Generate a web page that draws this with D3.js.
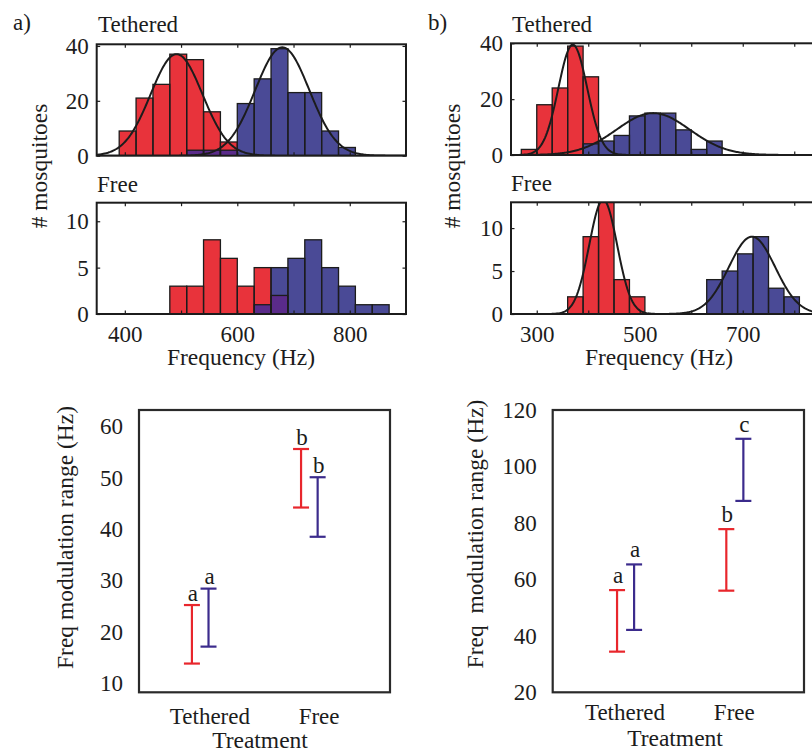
<!DOCTYPE html>
<html>
<head>
<meta charset="utf-8">
<script src="https://cdn.jsdelivr.net/npm/d3@7"></script>
<style>
  html, body { margin: 0; padding: 0; background: #fff; }
  svg { display: block; font-family: "Liberation Serif", "Times New Roman", serif; }
</style>
</head>
<body>
<svg id="chart" width="812" height="753"></svg>
<script>
// ---------------- Histogram counts (30 Hz bins: first bin start, counts) ----------------
const binWidth = 30;

const aTetheredRedStart = 390;
const aTetheredRedCounts = [9, 21, 26, 37, 35, 16, 5];
const aTetheredBlueStart = 510;
const aTetheredBlueCounts = [2, 2, 2, 19, 28, 39, 23, 23, 9, 3];

const aFreeRedStart = 480;
const aFreeRedCounts = [3, 3, 8, 6, 3, 5, 2];
const aFreeBlueStart = 630;
const aFreeBlueCounts = [1, 5, 6, 8, 5, 3, 1, 1];

const bTetheredRedStart = 270;
const bTetheredRedCounts = [2, 18, 24, 39, 28];
const bTetheredBlueStart = 390;
const bTetheredBlueCounts = [4, 5, 7, 14, 15, 15, 9, 2, 5];

const bFreeRedStart = 360;
const bFreeRedCounts = [2, 9, 13, 4, 2];
const bFreeBlueStart = 630;
const bFreeBlueCounts = [4, 5, 7, 9, 3, 2];

// Fitted normal curves: [mean (Hz), sd (Hz), peak count]
const aTetheredRedFit = [492, 46, 37];
const aTetheredBlueFit = [680, 48, 39.5];
const bTetheredRedFit = [370, 28, 39.5];
const bTetheredBlueFit = [526, 71, 15];
const bFreeRedFit = [429, 27, 13.3];
const bFreeBlueFit = [718, 45, 9];

// Tick labels
const aFreqTickLabels = [400, 600, 800];
const bFreqTickLabels = [300, 500, 700];
const tetheredCountTicks = [0, 20, 40];
const freeCountTicks = [0, 5, 10];

// ---------------- Frequency modulation range (lower, upper) ----------------
const treatments = ["Tethered", "Free"];
const aRangeRed = [[13.8, 25.2], [44.2, 55.6]];
const aRangeBlue = [[17.1, 28.4], [38.5, 50.1]];
const aLettersRed = ["a", "b"];
const aLettersBlue = ["a", "b"];
const bRangeRed = [[34.4, 56.2], [56.0, 77.8]];
const bRangeBlue = [[42.1, 65.3], [87.8, 109.8]];
const bLettersRed = ["a", "b"];
const bLettersBlue = ["a", "c"];
const aRangeTicks = [10, 20, 30, 40, 50, 60];
const bRangeTicks = [20, 40, 60, 80, 100, 120];

// ---------------- Styling ----------------
const svg = d3.select("#chart");
const INK = "#1c1c1c";
const RED = "#e8333b";
const BLUE = "#4a4a96";
const PURPLE = "#5a2b8a";
const BAR_RED = "#e8262c";
const BAR_BLUE = "#3b2b8c";
const FONT = 23;

function makeBins(start, counts) {
  return counts.map((n, i) => ({ x0: start + i * binWidth, x1: start + (i + 1) * binWidth, n }));
}

function text(g, x, y, s, opts = {}) {
  const t = g.append("text")
    .attr("x", x).attr("y", y)
    .attr("fill", INK)
    .attr("font-size", opts.size || FONT)
    .attr("text-anchor", opts.anchor || "start")
    .text(s);
  if (opts.rotate) t.attr("transform", `rotate(-90,${x},${y})`);
  return t;
}

let clipCount = 0;
function histogram(cfg) {
  const g = svg.append("g");
  const x = d3.scaleLinear().domain(cfg.xDomain).range(cfg.xRange);
  const y = d3.scaleLinear().domain(cfg.yDomain).range(cfg.yRange);
  const [x0, x1] = cfg.xRange, [yb, yt] = cfg.yRange;

  const clipId = "clip" + (clipCount++);
  g.append("clipPath").attr("id", clipId)
    .append("rect").attr("x", x0).attr("y", yt).attr("width", x1 - x0).attr("height", yb - yt);
  const plot = g.append("g").attr("clip-path", `url(#${clipId})`);

  const red = makeBins(cfg.redStart, cfg.redCounts);
  const blue = makeBins(cfg.blueStart, cfg.blueCounts);
  const overlap = blue.map(b => {
    const r = red.find(r => r.x0 === b.x0);
    return r ? { x0: b.x0, x1: b.x1, n: Math.min(r.n, b.n) } : null;
  }).filter(Boolean);

  const place = sel => sel
    .attr("x", d => x(d.x0)).attr("width", d => x(d.x1) - x(d.x0))
    .attr("y", d => y(d.n)).attr("height", d => y(0) - y(d.n));

  plot.selectAll(null).data(red).join("rect").call(place).attr("fill", RED);
  plot.selectAll(null).data(blue).join("rect").call(place).attr("fill", BLUE);
  plot.selectAll(null).data(overlap).join("rect").call(place).attr("fill", cfg.overlapFill);
  plot.selectAll(null).data(red.concat(blue)).join("rect").call(place)
    .attr("fill", "none").attr("stroke", INK).attr("stroke-width", 1.3);

  // fitted normal curves
  const xs = d3.range(cfg.xDomain[0], cfg.xDomain[1] + 1, 2);
  (cfg.fits || []).forEach(([m, s, p]) => {
    const line = d3.line()
      .x(v => x(v))
      .y(v => y(p * Math.exp(-0.5 * ((v - m) / s) ** 2)));
    plot.append("path").datum(xs).attr("d", line)
      .attr("fill", "none").attr("stroke", INK).attr("stroke-width", 2);
  });

  // axes with inward ticks on all four sides
  const xTicks = d3.range(cfg.xTickFrom, cfg.xTickTo + 1, 100);
  const style = a => {
    a.select(".domain").remove();
    a.selectAll(".tick line").attr("stroke", INK).attr("stroke-width", 1.2);
    a.selectAll(".tick text").attr("fill", INK).attr("font-size", FONT);
    a.attr("font-family", null).attr("font-size", FONT);
  };
  g.append("g").attr("transform", `translate(0,${yb})`)
    .call(d3.axisBottom(x).tickValues(xTicks).tickSizeInner(-3.5).tickSizeOuter(0).tickPadding(12)
      .tickFormat(d => (cfg.showXLabels && cfg.xLabels.includes(d)) ? d : ""))
    .call(style);
  g.append("g").attr("transform", `translate(0,${yt})`)
    .call(d3.axisTop(x).tickValues(xTicks).tickSizeInner(-3.5).tickSizeOuter(0).tickFormat(""))
    .call(style);
  g.append("g").attr("transform", `translate(${x0},0)`)
    .call(d3.axisLeft(y).tickValues(cfg.yTicks).tickSizeInner(-3.5).tickSizeOuter(0).tickPadding(8))
    .call(style);
  g.append("g").attr("transform", `translate(${x1},0)`)
    .call(d3.axisRight(y).tickValues(cfg.yTicks).tickSizeInner(-3.5).tickSizeOuter(0).tickFormat(""))
    .call(style);

  g.append("rect").attr("x", x0).attr("y", yt).attr("width", x1 - x0).attr("height", yb - yt)
    .attr("fill", "none").attr("stroke", INK).attr("stroke-width", 2);
  return g;
}

function rangePanel(cfg) {
  const g = svg.append("g");
  const [left, right] = cfg.xRange, [bottom, top] = cfg.yRange;
  const x = d3.scaleLinear().domain(cfg.xDomain).range(cfg.xRange);
  const y = d3.scaleLinear().domain(cfg.yDomain).range(cfg.yRange);

  g.append("rect").attr("x", left).attr("y", top).attr("width", right - left).attr("height", bottom - top)
    .attr("fill", "none").attr("stroke", "#2a2a2a").attr("stroke-width", 2.2);

  g.append("g").attr("transform", `translate(${left},0)`)
    .call(d3.axisLeft(y).tickValues(cfg.yTicks).tickSize(0).tickPadding(16))
    .call(a => {
      a.select(".domain").remove();
      a.attr("font-family", null).attr("font-size", FONT);
      a.selectAll(".tick text").attr("fill", INK).attr("font-size", FONT);
    });

  const series = [
    { ranges: cfg.red, letters: cfg.redLetters, color: BAR_RED, offset: cfg.redOffset },
    { ranges: cfg.blue, letters: cfg.blueLetters, color: BAR_BLUE, offset: cfg.blueOffset }
  ];
  series.forEach(s => {
    s.ranges.forEach(([lo, hi], i) => {
      const cx = x(i + 1 + s.offset);
      g.append("line").attr("x1", cx).attr("x2", cx).attr("y1", y(lo)).attr("y2", y(hi))
        .attr("stroke", s.color).attr("stroke-width", 2.2);
      [lo, hi].forEach(v => g.append("line")
        .attr("x1", cx - 8).attr("x2", cx + 8).attr("y1", y(v)).attr("y2", y(v))
        .attr("stroke", s.color).attr("stroke-width", 2.2));
      text(g, cx + 1, y(hi) - cfg.letterGap, s.letters[i], { anchor: "middle" });
    });
  });

  treatments.forEach((t, i) => text(g, x(i + 1), cfg.catY, t, { anchor: "middle" }));
  text(g, cfg.titleX, cfg.titleY, "Treatment", { anchor: "middle", size: 23.5 });
  text(g, cfg.yLabelX, cfg.yLabelY, cfg.yLabel, { anchor: "middle", rotate: true, size: 23.5 })
    .attr("xml:space", "preserve").style("white-space", "pre");
  return g;
}

// ---------------- Panel a) histograms ----------------
histogram({
  xDomain: [350, 900], xRange: [96.7, 406],
  yDomain: [0, 40.6], yRange: [155.7, 44.3], yTicks: tetheredCountTicks,
  xTickFrom: 400, xTickTo: 800, xLabels: aFreqTickLabels, showXLabels: false,
  redStart: aTetheredRedStart, redCounts: aTetheredRedCounts,
  blueStart: aTetheredBlueStart, blueCounts: aTetheredBlueCounts,
  overlapFill: PURPLE, fits: [aTetheredRedFit, aTetheredBlueFit]
});
histogram({
  xDomain: [350, 900], xRange: [96.7, 406],
  yDomain: [0, 12], yRange: [314, 202.7], yTicks: freeCountTicks,
  xTickFrom: 400, xTickTo: 800, xLabels: aFreqTickLabels, showXLabels: true,
  redStart: aFreeRedStart, redCounts: aFreeRedCounts,
  blueStart: aFreeBlueStart, blueCounts: aFreeBlueCounts,
  overlapFill: PURPLE, fits: []
});

// ---------------- Panel b) histograms ----------------
histogram({
  xDomain: [250, 850], xRange: [511, 820],
  yDomain: [0, 40], yRange: [155, 43.3], yTicks: tetheredCountTicks,
  xTickFrom: 300, xTickTo: 800, xLabels: bFreqTickLabels, showXLabels: false,
  redStart: bTetheredRedStart, redCounts: bTetheredRedCounts,
  blueStart: bTetheredBlueStart, blueCounts: bTetheredBlueCounts,
  overlapFill: BLUE, fits: [bTetheredRedFit, bTetheredBlueFit]
});
histogram({
  xDomain: [250, 850], xRange: [511, 820],
  yDomain: [0, 13], yRange: [314, 202.3], yTicks: freeCountTicks,
  xTickFrom: 300, xTickTo: 800, xLabels: bFreqTickLabels, showXLabels: true,
  redStart: bFreeRedStart, redCounts: bFreeRedCounts,
  blueStart: bFreeBlueStart, blueCounts: bFreeBlueCounts,
  overlapFill: BLUE, fits: [bFreeRedFit, bFreeBlueFit]
});

// Titles and shared labels of the histogram panels
const labels = svg.append("g");
text(labels, 13, 30, "a)");
text(labels, 98, 31.5, "Tethered");
text(labels, 97, 191.5, "Free");
text(labels, 428, 30, "b)");
text(labels, 512, 31.5, "Tethered");
text(labels, 511, 191, "Free");
text(labels, 47, 166, "# mosquitoes", { anchor: "middle", rotate: true, size: 23.5 });
text(labels, 460, 166, "# mosquitoes", { anchor: "middle", rotate: true, size: 23.5 });
text(labels, 241, 365, "Frequency (Hz)", { anchor: "middle", size: 23.5 });
text(labels, 659, 365, "Frequency (Hz)", { anchor: "middle", size: 23.5 });

// ---------------- Frequency modulation range panels ----------------
rangePanel({
  xDomain: [0.35, 2.65], xRange: [139, 390],
  yDomain: [8.2, 63.2], yRange: [692.3, 410], yTicks: aRangeTicks,
  red: aRangeRed, blue: aRangeBlue, redLetters: aLettersRed, blueLetters: aLettersBlue,
  redOffset: -0.165, blueOffset: -0.013, letterGap: 4.5,
  catY: 724, titleX: 260, titleY: 748,
  yLabel: "Freq modulation range (Hz)", yLabelX: 73, yLabelY: 537.5
});
rangePanel({
  xDomain: [0.338, 2.638], xRange: [552.7, 804],
  yDomain: [20, 120], yRange: [692.3, 410], yTicks: bRangeTicks,
  red: bRangeRed, blue: bRangeBlue, redLetters: bLettersRed, blueLetters: bLettersBlue,
  redOffset: -0.073, blueOffset: 0.083, letterGap: 7,
  catY: 720, titleX: 675, titleY: 746,
  yLabel: "Freq  modulation range (Hz)", yLabelX: 483, yLabelY: 534
});
</script>
</body>
</html>
